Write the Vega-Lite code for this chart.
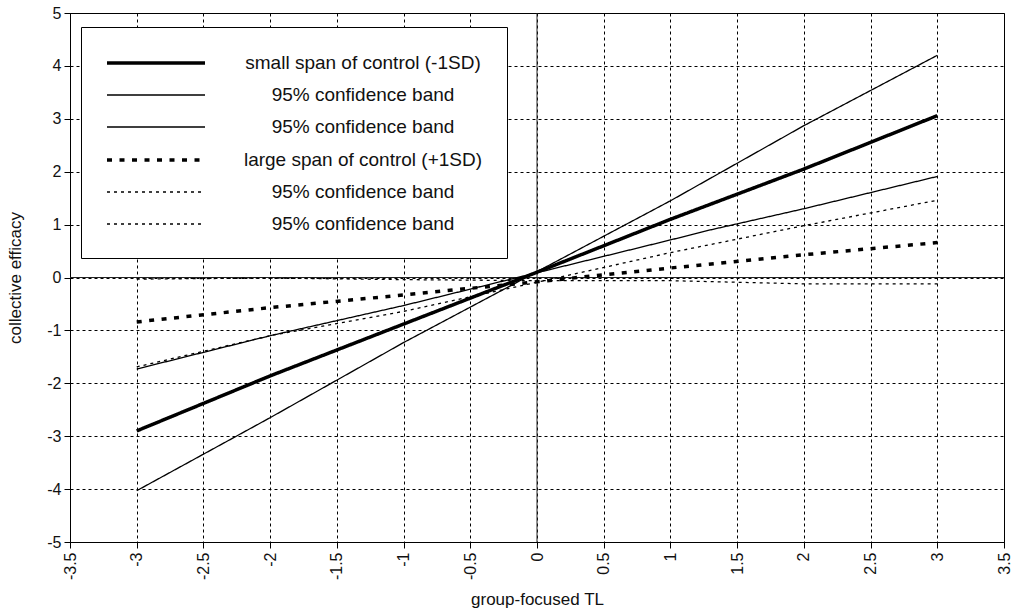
{
  "$schema": "https://vega.github.io/schema/vega-lite/v6.json",
  "autosize": {"type": "none"},
  "width": 934,
  "height": 529,
  "padding": {"left": 70, "top": 13, "right": 8, "bottom": 74},
  "background": "white",
  "config": {
    "view": {"stroke": "black", "strokeWidth": 1},
    "font": "Liberation Sans",
    "axis": {
      "labelFont": "Liberation Sans",
      "labelFontSize": 16,
      "labelColor": "#111",
      "titleFont": "Liberation Sans",
      "titleFontSize": 17,
      "titleFontWeight": "normal",
      "titleColor": "#111",
      "grid": true,
      "gridColor": "black",
      "gridDash": [3, 3],
      "gridOpacity": 1,
      "gridWidth": 1,
      "tickColor": "black",
      "tickSize": 6,
      "domainColor": "black"
    },
    "legend": {
      "labelFont": "Liberation Sans",
      "labelFontSize": 19,
      "labelColor": "#111",
      "labelLimit": 400,
      "fillColor": "white",
      "strokeColor": "black",
      "padding": 24
    }
  },
  "layer": [
    {
      "data": {"values": [{}]},
      "mark": {"type": "rule", "color": "#222", "strokeWidth": 1},
      "encoding": {"x": {"datum": 0, "type": "quantitative", "scale": {"domain": [-3.5, 3.5], "nice": false}}}
    },
    {
      "data": {"values": [{}]},
      "mark": {"type": "rule", "color": "#222", "strokeWidth": 1},
      "encoding": {"y": {"datum": 0, "type": "quantitative", "scale": {"domain": [-5, 5], "nice": false}}}
    },
    {
      "data": {
        "values": [
          {"series": "small span of control (-1SD)", "tl": -3, "ce": -2.90},
          {"series": "small span of control (-1SD)", "tl": -2, "ce": -1.86},
          {"series": "small span of control (-1SD)", "tl": -1, "ce": -0.88},
          {"series": "small span of control (-1SD)", "tl": 0, "ce": 0.10},
          {"series": "small span of control (-1SD)", "tl": 1, "ce": 1.10},
          {"series": "small span of control (-1SD)", "tl": 2, "ce": 2.05},
          {"series": "small span of control (-1SD)", "tl": 3, "ce": 3.06},
          {"series": "95% confidence band (small, upper)", "tl": -3, "ce": -4.03},
          {"series": "95% confidence band (small, upper)", "tl": -2, "ce": -2.65},
          {"series": "95% confidence band (small, upper)", "tl": -1, "ce": -1.23},
          {"series": "95% confidence band (small, upper)", "tl": 0, "ce": 0.11},
          {"series": "95% confidence band (small, upper)", "tl": 1, "ce": 1.45},
          {"series": "95% confidence band (small, upper)", "tl": 2, "ce": 2.87},
          {"series": "95% confidence band (small, upper)", "tl": 3, "ce": 4.20},
          {"series": "95% confidence band (small, lower)", "tl": -3, "ce": -1.73},
          {"series": "95% confidence band (small, lower)", "tl": -2, "ce": -1.10},
          {"series": "95% confidence band (small, lower)", "tl": -1, "ce": -0.53},
          {"series": "95% confidence band (small, lower)", "tl": 0, "ce": 0.09},
          {"series": "95% confidence band (small, lower)", "tl": 1, "ce": 0.71},
          {"series": "95% confidence band (small, lower)", "tl": 1.3, "ce": 0.90},
          {"series": "95% confidence band (small, lower)", "tl": 2, "ce": 1.30},
          {"series": "95% confidence band (small, lower)", "tl": 3, "ce": 1.91},
          {"series": "large span of control (+1SD)", "tl": -3, "ce": -0.84},
          {"series": "large span of control (+1SD)", "tl": -2, "ce": -0.57},
          {"series": "large span of control (+1SD)", "tl": -1, "ce": -0.33},
          {"series": "large span of control (+1SD)", "tl": 0, "ce": -0.08},
          {"series": "large span of control (+1SD)", "tl": 1, "ce": 0.18},
          {"series": "large span of control (+1SD)", "tl": 2, "ce": 0.43},
          {"series": "large span of control (+1SD)", "tl": 3, "ce": 0.66},
          {"series": "95% confidence band (large, upper)", "tl": -3, "ce": -1.69},
          {"series": "95% confidence band (large, upper)", "tl": -2, "ce": -1.10},
          {"series": "95% confidence band (large, upper)", "tl": -1, "ce": -0.64},
          {"series": "95% confidence band (large, upper)", "tl": 0, "ce": -0.09},
          {"series": "95% confidence band (large, upper)", "tl": 1, "ce": 0.47},
          {"series": "95% confidence band (large, upper)", "tl": 2, "ce": 0.98},
          {"series": "95% confidence band (large, upper)", "tl": 3, "ce": 1.46},
          {"series": "95% confidence band (large, lower)", "tl": -3, "ce": -0.03},
          {"series": "95% confidence band (large, lower)", "tl": -2, "ce": -0.01},
          {"series": "95% confidence band (large, lower)", "tl": -1, "ce": -0.04},
          {"series": "95% confidence band (large, lower)", "tl": 0, "ce": -0.06},
          {"series": "95% confidence band (large, lower)", "tl": 1, "ce": -0.06},
          {"series": "95% confidence band (large, lower)", "tl": 2, "ce": -0.12},
          {"series": "95% confidence band (large, lower)", "tl": 3, "ce": -0.12}
        ]
      },
      "mark": {"type": "line", "color": "black", "strokeCap": "butt"},
      "encoding": {
        "x": {
          "field": "tl", "type": "quantitative", "title": "group-focused TL",
          "scale": {"domain": [-3.5, 3.5], "nice": false},
          "axis": {
            "values": [-3.5, -3, -2.5, -2, -1.5, -1, -0.5, 0, 0.5, 1, 1.5, 2, 2.5, 3, 3.5],
            "labelAngle": -90,
            "labelExpr": "datum.value + ''",
            "labelPadding": 4,
            "titlePadding": 12
          }
        },
        "y": {
          "field": "ce", "type": "quantitative", "title": "collective efficacy",
          "scale": {"domain": [-5, 5], "nice": false},
          "axis": {
            "values": [-5, -4, -3, -2, -1, 0, 1, 2, 3, 4, 5],
            "labelExpr": "datum.value + ''",
            "labelPadding": 3,
            "titlePadding": 22
          }
        },
        "strokeDash": {
          "field": "series", "type": "nominal",
          "scale": {
            "domain": ["small span of control (-1SD)", "95% confidence band (small, upper)", "95% confidence band (small, lower)", "large span of control (+1SD)", "95% confidence band (large, upper)", "95% confidence band (large, lower)"],
            "range": [[1, 0], [1, 0], [1, 0], [5, 7.5], [3, 4], [3, 4]]
          },
          "legend": {
            "title": null,
            "orient": "none",
            "legendX": 11,
            "legendY": 14,
            "symbolType": "M-1,0H8.8",
            "symbolSize": 400,
            "labelAlign": "center",
            "labelOffset": 234,
            "rowPadding": 11,
            "labelExpr": "indexof(datum.label, '95%') == 0 ? '95% confidence band' : datum.label"
          }
        },
        "strokeWidth": {
          "field": "series", "type": "nominal",
          "scale": {
            "type": "ordinal",
            "domain": ["small span of control (-1SD)", "95% confidence band (small, upper)", "95% confidence band (small, lower)", "large span of control (+1SD)", "95% confidence band (large, upper)", "95% confidence band (large, lower)"],
            "range": [3.5, 1.3, 1.3, 3.5, 1.3, 1.3]
          },
          "legend": {
            "title": null,
            "orient": "none",
            "legendX": 11,
            "legendY": 14,
            "symbolType": "M-1,0H8.8",
            "symbolSize": 400,
            "labelAlign": "center",
            "labelOffset": 234,
            "rowPadding": 11,
            "labelExpr": "indexof(datum.label, '95%') == 0 ? '95% confidence band' : datum.label"
          }
        }
      }
    }
  ]
}
